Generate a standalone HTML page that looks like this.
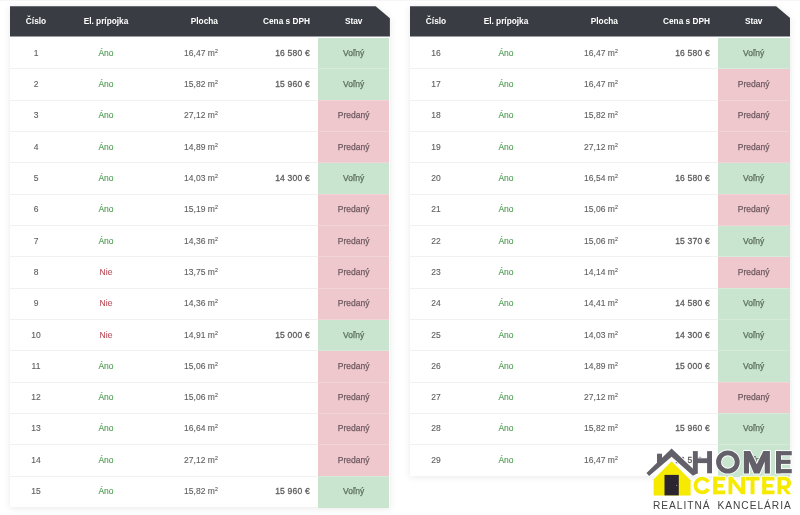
<!DOCTYPE html>
<html><head><meta charset="utf-8"><style>
html,body{margin:0;padding:0;}
body{width:800px;height:515px;position:relative;overflow:hidden;background:#fff;font-family:"Liberation Sans",sans-serif;}
.topband{position:absolute;left:0;top:0;width:800px;height:1.2px;background:#f6f6f7;}
.tbl{position:absolute;width:380.4px;filter:drop-shadow(0 1px 3.5px rgba(0,0,0,0.085));}
.bg{position:absolute;left:0;top:0;width:100%;height:100%;background:#fff;clip-path:polygon(0 0,366.2px 0,380.4px 12px,380.4px 100%,0 100%);}
.head{position:absolute;left:0;top:0;width:100%;height:30.4px;background:#393d43;clip-path:polygon(0 0,366.2px 0,380.4px 12px,380.4px 100%,0 100%);}
.hc{will-change:transform;position:absolute;top:0;height:30.4px;line-height:30.4px;color:#fff;font-weight:bold;font-size:8.3px;white-space:nowrap;}
.row{position:absolute;left:0;width:100%;}
.row .c{will-change:transform;position:absolute;top:0;height:100%;font-size:8.5px;color:#5e5e5e;white-space:nowrap;-webkit-text-stroke:0.12px currentColor;}
.st{position:absolute;left:308.2px;top:0;width:71.6px;height:calc(100% + 0.6px);}
.st.v{background:#c9e5cf;}
.st.p{background:#eec8cd;}
.sep{position:absolute;left:0;top:-0.6px;width:308.2px;height:1px;background:#f1f1f1;}
.sep2{position:absolute;left:308.2px;top:-0.6px;width:71.3px;height:1px;background:rgba(255,255,255,0.22);}
.sq{font-size:5.2px;position:relative;top:-3.2px;margin-left:0.3px;}

.hc.c1,.row .c1{left:6px;width:40px;text-align:center;}
.hc.c2,.row .c2{left:66px;width:60px;text-align:center;}
.hc.c3,.row .c3{left:130px;width:78px;text-align:right;}
.hc.c4,.row .c4{left:220px;width:80px;text-align:right;}
.hc.c5,.row .c5{left:308.2px;width:71.3px;text-align:center;}
.yes{color:#4f9c53 !important;}
.no{color:#b9505b !important;}
.row .pr{-webkit-text-stroke:0.28px #5c5c5c;letter-spacing:0.22px;color:#5c5c5c !important;}
.row .vt{color:#5b6e5e !important;-webkit-text-stroke:0.25px #5b6e5e;}
.row .pt{color:#6e5a60 !important;-webkit-text-stroke:0.25px #6e5a60;}
.logo{position:absolute;left:0;top:0;}
.rk{will-change:transform;position:absolute;left:653.3px;top:498.5px;font-size:10.2px;line-height:14px;letter-spacing:0.97px;color:#444;white-space:nowrap;}
</style></head><body>
<div class="topband"></div><div class="tbl" style="left:9.5px;top:6.2px;height:501.25px">
<div class="bg"></div>
<div class="head"><div class="hc c1">Číslo</div><div class="hc c2">El. prípojka</div><div class="hc c3">Plocha</div><div class="hc c4">Cena s DPH</div><div class="hc c5">Stav</div></div>
<div class="row" style="top:31.45px;height:31.32px;line-height:31.32px"><div class="st v"></div><div class="c c1">1</div><div class="c c2 yes">Áno</div><div class="c c3">16,47 m<span class="sq">2</span></div><div class="c c4 pr">16 580 €</div><div class="c c5 vt">Voľný</div></div>
<div class="row" style="top:62.77px;height:31.32px;line-height:31.32px"><div class="st v"></div><div class="sep"></div><div class="sep2"></div><div class="c c1">2</div><div class="c c2 yes">Áno</div><div class="c c3">15,82 m<span class="sq">2</span></div><div class="c c4 pr">15 960 €</div><div class="c c5 vt">Voľný</div></div>
<div class="row" style="top:94.09px;height:31.32px;line-height:31.32px"><div class="st p"></div><div class="sep"></div><div class="sep2"></div><div class="c c1">3</div><div class="c c2 yes">Áno</div><div class="c c3">27,12 m<span class="sq">2</span></div><div class="c c4 pr"></div><div class="c c5 pt">Predaný</div></div>
<div class="row" style="top:125.41px;height:31.32px;line-height:31.32px"><div class="st p"></div><div class="sep"></div><div class="sep2"></div><div class="c c1">4</div><div class="c c2 yes">Áno</div><div class="c c3">14,89 m<span class="sq">2</span></div><div class="c c4 pr"></div><div class="c c5 pt">Predaný</div></div>
<div class="row" style="top:156.73px;height:31.32px;line-height:31.32px"><div class="st v"></div><div class="sep"></div><div class="sep2"></div><div class="c c1">5</div><div class="c c2 yes">Áno</div><div class="c c3">14,03 m<span class="sq">2</span></div><div class="c c4 pr">14 300 €</div><div class="c c5 vt">Voľný</div></div>
<div class="row" style="top:188.05px;height:31.32px;line-height:31.32px"><div class="st p"></div><div class="sep"></div><div class="sep2"></div><div class="c c1">6</div><div class="c c2 yes">Áno</div><div class="c c3">15,19 m<span class="sq">2</span></div><div class="c c4 pr"></div><div class="c c5 pt">Predaný</div></div>
<div class="row" style="top:219.37px;height:31.32px;line-height:31.32px"><div class="st p"></div><div class="sep"></div><div class="sep2"></div><div class="c c1">7</div><div class="c c2 yes">Áno</div><div class="c c3">14,36 m<span class="sq">2</span></div><div class="c c4 pr"></div><div class="c c5 pt">Predaný</div></div>
<div class="row" style="top:250.69px;height:31.32px;line-height:31.32px"><div class="st p"></div><div class="sep"></div><div class="sep2"></div><div class="c c1">8</div><div class="c c2 no">Nie</div><div class="c c3">13,75 m<span class="sq">2</span></div><div class="c c4 pr"></div><div class="c c5 pt">Predaný</div></div>
<div class="row" style="top:282.01px;height:31.32px;line-height:31.32px"><div class="st p"></div><div class="sep"></div><div class="sep2"></div><div class="c c1">9</div><div class="c c2 no">Nie</div><div class="c c3">14,36 m<span class="sq">2</span></div><div class="c c4 pr"></div><div class="c c5 pt">Predaný</div></div>
<div class="row" style="top:313.33px;height:31.32px;line-height:31.32px"><div class="st v"></div><div class="sep"></div><div class="sep2"></div><div class="c c1">10</div><div class="c c2 no">Nie</div><div class="c c3">14,91 m<span class="sq">2</span></div><div class="c c4 pr">15 000 €</div><div class="c c5 vt">Voľný</div></div>
<div class="row" style="top:344.65px;height:31.32px;line-height:31.32px"><div class="st p"></div><div class="sep"></div><div class="sep2"></div><div class="c c1">11</div><div class="c c2 yes">Áno</div><div class="c c3">15,06 m<span class="sq">2</span></div><div class="c c4 pr"></div><div class="c c5 pt">Predaný</div></div>
<div class="row" style="top:375.97px;height:31.32px;line-height:31.32px"><div class="st p"></div><div class="sep"></div><div class="sep2"></div><div class="c c1">12</div><div class="c c2 yes">Áno</div><div class="c c3">15,06 m<span class="sq">2</span></div><div class="c c4 pr"></div><div class="c c5 pt">Predaný</div></div>
<div class="row" style="top:407.29px;height:31.32px;line-height:31.32px"><div class="st p"></div><div class="sep"></div><div class="sep2"></div><div class="c c1">13</div><div class="c c2 yes">Áno</div><div class="c c3">16,64 m<span class="sq">2</span></div><div class="c c4 pr"></div><div class="c c5 pt">Predaný</div></div>
<div class="row" style="top:438.61px;height:31.32px;line-height:31.32px"><div class="st p"></div><div class="sep"></div><div class="sep2"></div><div class="c c1">14</div><div class="c c2 yes">Áno</div><div class="c c3">27,12 m<span class="sq">2</span></div><div class="c c4 pr"></div><div class="c c5 pt">Predaný</div></div>
<div class="row" style="top:469.93px;height:31.32px;line-height:31.32px"><div class="st v"></div><div class="sep"></div><div class="sep2"></div><div class="c c1">15</div><div class="c c2 yes">Áno</div><div class="c c3">15,82 m<span class="sq">2</span></div><div class="c c4 pr">15 960 €</div><div class="c c5 vt">Voľný</div></div>
</div><div class="tbl" style="left:410px;top:6.2px;height:469.93px">
<div class="bg"></div>
<div class="head"><div class="hc c1">Číslo</div><div class="hc c2">El. prípojka</div><div class="hc c3">Plocha</div><div class="hc c4">Cena s DPH</div><div class="hc c5">Stav</div></div>
<div class="row" style="top:31.45px;height:31.32px;line-height:31.32px"><div class="st v"></div><div class="c c1">16</div><div class="c c2 yes">Áno</div><div class="c c3">16,47 m<span class="sq">2</span></div><div class="c c4 pr">16 580 €</div><div class="c c5 vt">Voľný</div></div>
<div class="row" style="top:62.77px;height:31.32px;line-height:31.32px"><div class="st p"></div><div class="sep"></div><div class="sep2"></div><div class="c c1">17</div><div class="c c2 yes">Áno</div><div class="c c3">16,47 m<span class="sq">2</span></div><div class="c c4 pr"></div><div class="c c5 pt">Predaný</div></div>
<div class="row" style="top:94.09px;height:31.32px;line-height:31.32px"><div class="st p"></div><div class="sep"></div><div class="sep2"></div><div class="c c1">18</div><div class="c c2 yes">Áno</div><div class="c c3">15,82 m<span class="sq">2</span></div><div class="c c4 pr"></div><div class="c c5 pt">Predaný</div></div>
<div class="row" style="top:125.41px;height:31.32px;line-height:31.32px"><div class="st p"></div><div class="sep"></div><div class="sep2"></div><div class="c c1">19</div><div class="c c2 yes">Áno</div><div class="c c3">27,12 m<span class="sq">2</span></div><div class="c c4 pr"></div><div class="c c5 pt">Predaný</div></div>
<div class="row" style="top:156.73px;height:31.32px;line-height:31.32px"><div class="st v"></div><div class="sep"></div><div class="sep2"></div><div class="c c1">20</div><div class="c c2 yes">Áno</div><div class="c c3">16,54 m<span class="sq">2</span></div><div class="c c4 pr">16 580 €</div><div class="c c5 vt">Voľný</div></div>
<div class="row" style="top:188.05px;height:31.32px;line-height:31.32px"><div class="st p"></div><div class="sep"></div><div class="sep2"></div><div class="c c1">21</div><div class="c c2 yes">Áno</div><div class="c c3">15,06 m<span class="sq">2</span></div><div class="c c4 pr"></div><div class="c c5 pt">Predaný</div></div>
<div class="row" style="top:219.37px;height:31.32px;line-height:31.32px"><div class="st v"></div><div class="sep"></div><div class="sep2"></div><div class="c c1">22</div><div class="c c2 yes">Áno</div><div class="c c3">15,06 m<span class="sq">2</span></div><div class="c c4 pr">15 370 €</div><div class="c c5 vt">Voľný</div></div>
<div class="row" style="top:250.69px;height:31.32px;line-height:31.32px"><div class="st p"></div><div class="sep"></div><div class="sep2"></div><div class="c c1">23</div><div class="c c2 yes">Áno</div><div class="c c3">14,14 m<span class="sq">2</span></div><div class="c c4 pr"></div><div class="c c5 pt">Predaný</div></div>
<div class="row" style="top:282.01px;height:31.32px;line-height:31.32px"><div class="st v"></div><div class="sep"></div><div class="sep2"></div><div class="c c1">24</div><div class="c c2 yes">Áno</div><div class="c c3">14,41 m<span class="sq">2</span></div><div class="c c4 pr">14 580 €</div><div class="c c5 vt">Voľný</div></div>
<div class="row" style="top:313.33px;height:31.32px;line-height:31.32px"><div class="st v"></div><div class="sep"></div><div class="sep2"></div><div class="c c1">25</div><div class="c c2 yes">Áno</div><div class="c c3">14,03 m<span class="sq">2</span></div><div class="c c4 pr">14 300 €</div><div class="c c5 vt">Voľný</div></div>
<div class="row" style="top:344.65px;height:31.32px;line-height:31.32px"><div class="st v"></div><div class="sep"></div><div class="sep2"></div><div class="c c1">26</div><div class="c c2 yes">Áno</div><div class="c c3">14,89 m<span class="sq">2</span></div><div class="c c4 pr">15 000 €</div><div class="c c5 vt">Voľný</div></div>
<div class="row" style="top:375.97px;height:31.32px;line-height:31.32px"><div class="st p"></div><div class="sep"></div><div class="sep2"></div><div class="c c1">27</div><div class="c c2 yes">Áno</div><div class="c c3">27,12 m<span class="sq">2</span></div><div class="c c4 pr"></div><div class="c c5 pt">Predaný</div></div>
<div class="row" style="top:407.29px;height:31.32px;line-height:31.32px"><div class="st v"></div><div class="sep"></div><div class="sep2"></div><div class="c c1">28</div><div class="c c2 yes">Áno</div><div class="c c3">15,82 m<span class="sq">2</span></div><div class="c c4 pr">15 960 €</div><div class="c c5 vt">Voľný</div></div>
<div class="row" style="top:438.61px;height:31.32px;line-height:31.32px"><div class="st v"></div><div class="sep"></div><div class="sep2"></div><div class="c c1">29</div><div class="c c2 yes">Áno</div><div class="c c3">16,47 m<span class="sq">2</span></div><div class="c c4 pr">16 580 €</div><div class="c c5 vt">Voľný</div></div>
</div><svg class="logo" width="800" height="515" viewBox="0 0 800 515">
<g fill="#fff" stroke="#fff" stroke-width="1.8" stroke-linejoin="round">
<g>
<polygon points="646.5,472.9 671.6,448.5 697.75,473.3 692.9,475.8 671.6,456.7 649.1,475.9"/>
<rect x="657" y="453.7" width="5" height="9.5"/>
<rect x="692.9" y="451.1" width="4.9" height="22.2"/>
<rect x="707.1" y="451.1" width="4.9" height="22.2"/>
<rect x="697" y="458.3" width="11" height="4.8"/>
<path fill-rule="evenodd" d="M716.1,462 a11.8,11.6 0 1,0 23.6,0 a11.8,11.6 0 1,0 -23.6,0 Z M721,462 a6.9,6.7 0 1,0 13.8,0 a6.9,6.7 0 1,0 -13.8,0 Z"/>
<polygon points="743.8,473.5 743.8,451 750.2,451 756.8,464.2 763.4,451 769.9,451 769.9,473.5 764.7,473.5 764.7,461.5 759.6,473.5 754,473.5 749,461.5 749,473.5"/>
<rect x="776" y="451.1" width="5" height="22.2"/>
<rect x="776" y="451.1" width="15.75" height="4.2"/>
<rect x="776" y="459.75" width="14.5" height="4.15"/>
<rect x="776" y="469.05" width="15.75" height="4.2"/>
</g>
<g>
<polygon points="671.6,461.3 653.6,479.3 653.6,495.4 690.6,495.4 690.6,480.3"/>
<path d="M709.9,481.1 A8.75,8.75 0 1,0 709.9,489.9 L706.6,488.0 A4.95,4.95 0 1,1 706.6,483.0 Z"/>
<rect x="713.25" y="476.75" width="4" height="17.5"/>
<rect x="713.25" y="476.75" width="11.75" height="3.75"/>
<rect x="713.25" y="484" width="10" height="3.5"/>
<rect x="713.25" y="490.5" width="11.75" height="3.75"/>
<polygon points="728.5,494.25 728.5,476.75 732.3,476.75 741.2,488.2 741.2,476.75 745,476.75 745,494.25 741.2,494.25 732.3,482.8 732.3,494.25"/>
<rect x="745.6" y="476.75" width="13.9" height="3.75"/>
<rect x="750.6" y="476.75" width="3.9" height="17.5"/>
<rect x="762.25" y="476.75" width="4" height="17.5"/>
<rect x="762.25" y="476.75" width="12.25" height="3.75"/>
<rect x="762.25" y="484" width="10.5" height="3.5"/>
<rect x="762.25" y="490.5" width="12.25" height="3.75"/>
<path fill-rule="evenodd" d="M777.5,494.25 L777.5,476.75 L784.2,476.75 C788.6,476.75 791,479.3 791,482.9 C791,485.9 789.3,488 786.6,488.7 L791.2,494.25 L786.8,494.25 L782.8,489 L781.4,489 L781.4,494.25 Z M781.4,480.3 L781.4,485.6 L784.2,485.6 C786.1,485.6 787.1,484.6 787.1,482.95 C787.1,481.3 786.1,480.3 784.2,480.3 Z"/>
</g></g>
<g fill="#636069">
<g>
<polygon points="646.5,472.9 671.6,448.5 697.75,473.3 692.9,475.8 671.6,456.7 649.1,475.9"/>
<rect x="657" y="453.7" width="5" height="9.5"/>
<rect x="692.9" y="451.1" width="4.9" height="22.2"/>
<rect x="707.1" y="451.1" width="4.9" height="22.2"/>
<rect x="697" y="458.3" width="11" height="4.8"/>
<path fill-rule="evenodd" d="M716.1,462 a11.8,11.6 0 1,0 23.6,0 a11.8,11.6 0 1,0 -23.6,0 Z M721,462 a6.9,6.7 0 1,0 13.8,0 a6.9,6.7 0 1,0 -13.8,0 Z"/>
<polygon points="743.8,473.5 743.8,451 750.2,451 756.8,464.2 763.4,451 769.9,451 769.9,473.5 764.7,473.5 764.7,461.5 759.6,473.5 754,473.5 749,461.5 749,473.5"/>
<rect x="776" y="451.1" width="5" height="22.2"/>
<rect x="776" y="451.1" width="15.75" height="4.2"/>
<rect x="776" y="459.75" width="14.5" height="4.15"/>
<rect x="776" y="469.05" width="15.75" height="4.2"/>
</g></g>
<g fill="#f6ea00">
<g>
<polygon points="671.6,461.3 653.6,479.3 653.6,495.4 690.6,495.4 690.6,480.3"/>
<path d="M709.9,481.1 A8.75,8.75 0 1,0 709.9,489.9 L706.6,488.0 A4.95,4.95 0 1,1 706.6,483.0 Z"/>
<rect x="713.25" y="476.75" width="4" height="17.5"/>
<rect x="713.25" y="476.75" width="11.75" height="3.75"/>
<rect x="713.25" y="484" width="10" height="3.5"/>
<rect x="713.25" y="490.5" width="11.75" height="3.75"/>
<polygon points="728.5,494.25 728.5,476.75 732.3,476.75 741.2,488.2 741.2,476.75 745,476.75 745,494.25 741.2,494.25 732.3,482.8 732.3,494.25"/>
<rect x="745.6" y="476.75" width="13.9" height="3.75"/>
<rect x="750.6" y="476.75" width="3.9" height="17.5"/>
<rect x="762.25" y="476.75" width="4" height="17.5"/>
<rect x="762.25" y="476.75" width="12.25" height="3.75"/>
<rect x="762.25" y="484" width="10.5" height="3.5"/>
<rect x="762.25" y="490.5" width="12.25" height="3.75"/>
<path fill-rule="evenodd" d="M777.5,494.25 L777.5,476.75 L784.2,476.75 C788.6,476.75 791,479.3 791,482.9 C791,485.9 789.3,488 786.6,488.7 L791.2,494.25 L786.8,494.25 L782.8,489 L781.4,489 L781.4,494.25 Z M781.4,480.3 L781.4,485.6 L784.2,485.6 C786.1,485.6 787.1,484.6 787.1,482.95 C787.1,481.3 786.1,480.3 784.2,480.3 Z"/>
</g></g>
<rect x="664.5" y="474.9" width="14.3" height="20.5" fill="#2b2530"/>
<circle cx="676.6" cy="485.4" r="0.6" fill="#8a8a8a"/>
</svg>
<div class="rk">REALITNÁ <span style="margin-left:3.1px">KANCELÁRIA</span></div>
</body></html>
